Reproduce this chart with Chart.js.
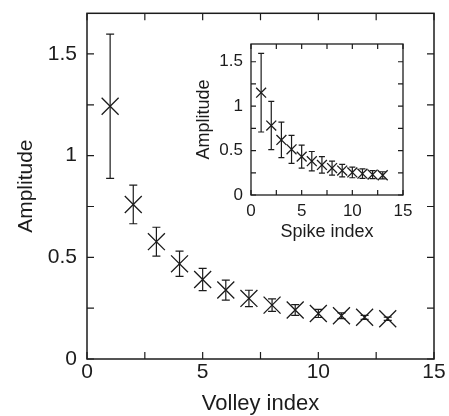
<!DOCTYPE html>
<html>
<head>
<meta charset="utf-8">
<script src="https://cdn.jsdelivr.net/npm/chart.js@4.4.1/dist/chart.umd.min.js"></script>
<style>
  html, body { margin: 0; padding: 0; background: #fff; }
  #wrap { position: relative; width: 449px; height: 416px; }
  #main { position: absolute; left: 0; top: 0; }
  #inset { position: absolute; left: 185px; top: 30px; }
</style>
</head>
<body>
<div id="wrap">
  <canvas id="main" width="449" height="416"></canvas>
  <canvas id="inset" width="230" height="215"></canvas>
</div>
<script>
// ---- data ----
const volleyIndex = [1, 2, 3, 4, 5, 6, 7, 8, 9, 10, 11, 12, 13];
const volleyAmplitude = [1.243, 0.760, 0.577, 0.468, 0.391, 0.339, 0.298, 0.265, 0.241, 0.224, 0.213, 0.205, 0.198];
const volleyError = [0.355, 0.095, 0.071, 0.062, 0.055, 0.049, 0.040, 0.031, 0.026, 0.020, 0.014, 0.010, 0.008];

const spikeIndex = [1, 2, 3, 4, 5, 6, 7, 8, 9, 10, 11, 12, 13];
const spikeAmplitude = [1.152, 0.782, 0.620, 0.514, 0.432, 0.381, 0.339, 0.303, 0.275, 0.254, 0.240, 0.230, 0.222];
const spikeError = [0.443, 0.271, 0.200, 0.158, 0.130, 0.109, 0.092, 0.079, 0.070, 0.060, 0.053, 0.045, 0.040];

const xTickLabels = [0, 5, 10, 15];
const yTickLabels = [0, 0.5, 1, 1.5];

const INK = '#1c1c1c';
const FONT = 'Liberation Sans, Arial, Helvetica, sans-serif';

function makePoints(xs, ys, es) {
  return xs.map((x, i) => ({ x: x, y: ys[i], err: es[i] }));
}

// error bars + inward ticks + frame
function decorPlugin(capHalf, tickLen, frameWidth) {
  return {
    id: 'decor',
    beforeDatasetsDraw(chart) {
      const ctx = chart.ctx;
      const xs = chart.scales.x, ys = chart.scales.y;
      ctx.save();
      ctx.strokeStyle = INK;
      ctx.lineWidth = 1.2;
      chart.data.datasets[0].data.forEach(p => {
        const px = xs.getPixelForValue(p.x);
        const pt = ys.getPixelForValue(p.y + p.err);
        const pb = ys.getPixelForValue(p.y - p.err);
        ctx.beginPath();
        ctx.moveTo(px, pt); ctx.lineTo(px, pb);
        ctx.moveTo(px - capHalf, pt); ctx.lineTo(px + capHalf, pt);
        ctx.moveTo(px - capHalf, pb); ctx.lineTo(px + capHalf, pb);
        ctx.stroke();
      });
      ctx.restore();
    },
    afterDraw(chart) {
      const ctx = chart.ctx;
      const a = chart.chartArea;
      const xs = chart.scales.x, ys = chart.scales.y;
      ctx.save();
      ctx.strokeStyle = INK;
      ctx.lineWidth = 1.2;
      ctx.beginPath();
      xs.ticks.forEach(t => {
        const px = xs.getPixelForValue(t.value);
        ctx.moveTo(px, a.bottom); ctx.lineTo(px, a.bottom - tickLen);
        ctx.moveTo(px, a.top); ctx.lineTo(px, a.top + tickLen);
      });
      ys.ticks.forEach(t => {
        const py = ys.getPixelForValue(t.value);
        ctx.moveTo(a.left, py); ctx.lineTo(a.left + tickLen, py);
        ctx.moveTo(a.right, py); ctx.lineTo(a.right - tickLen, py);
      });
      ctx.stroke();
      ctx.lineWidth = frameWidth;
      ctx.strokeRect(a.left, a.top, a.right - a.left, a.bottom - a.top);
      ctx.restore();
    }
  };
}

function zeroPad(s) {
  s.paddingTop = 0; s.paddingBottom = 0; s.paddingLeft = 0; s.paddingRight = 0;
}

function makeChart(canvasId, cfg) {
  return new Chart(document.getElementById(canvasId), {
    type: 'scatter',
    data: {
      datasets: [{
        data: makePoints(cfg.xs, cfg.ys, cfg.es),
        pointStyle: 'crossRot',
        pointRadius: cfg.markR,
        pointHoverRadius: cfg.markR,
        borderColor: INK,
        backgroundColor: INK,
        pointBorderWidth: 1.3,
        showLine: false
      }]
    },
    options: {
      responsive: false,
      animation: false,
      events: [],
      layout: { padding: cfg.padding },
      plugins: { legend: { display: false }, tooltip: { enabled: false } },
      scales: {
        x: {
          type: 'linear', min: 0, max: 15,
          grid: { display: false, drawTicks: false },
          border: { display: false },
          ticks: {
            stepSize: 2.5, includeBounds: false, padding: cfg.xTickPad,
            color: INK, font: { family: FONT, size: cfg.tickSize },
            maxRotation: 0, autoSkip: false,
            callback: v => xTickLabels.includes(v) ? String(v) : ''
          },
          title: {
            display: true, text: cfg.xTitle, color: INK,
            font: { family: FONT, size: cfg.titleSize, lineHeight: 1.1 },
            padding: { top: 0, bottom: cfg.xTitlePad }
          },
          afterFit: s => { s.height = cfg.xAxisH; zeroPad(s); }
        },
        y: {
          type: 'linear', min: 0, max: 1.7,
          grid: { display: false, drawTicks: false },
          border: { display: false },
          ticks: {
            stepSize: 0.25, includeBounds: false, padding: cfg.yTickPad,
            color: INK, font: { family: FONT, size: cfg.tickSize },
            autoSkip: false,
            callback: v => yTickLabels.some(t => Math.abs(t - v) < 1e-9) ? String(v) : ''
          },
          title: {
            display: true, text: cfg.yTitle, color: INK,
            font: { family: FONT, size: cfg.yTitleSize, lineHeight: 1.2 },
            padding: { top: cfg.yTitlePad, bottom: 0 }
          },
          afterFit: s => { s.width = cfg.yAxisW; zeroPad(s); }
        }
      }
    },
    plugins: [decorPlugin(cfg.capHalf, cfg.tickLen, cfg.frameWidth)]
  });
}

makeChart('main', {
  xs: volleyIndex, ys: volleyAmplitude, es: volleyError,
  markR: 12, capHalf: 4, tickLen: 7, frameWidth: 1.5,
  padding: { left: 0, top: 13, right: 15, bottom: 0 },
  tickSize: 21, titleSize: 22, yTitleSize: 21,
  xTickPad: 1, yTickPad: 10, xTitlePad: 0, yTitlePad: 14,
  xAxisH: 57, yAxisW: 87,
  xTitle: 'Volley index', yTitle: 'Amplitude'
});

makeChart('inset', {
  xs: spikeIndex, ys: spikeAmplitude, es: spikeError,
  markR: 7, capHalf: 3, tickLen: 5, frameWidth: 1.3,
  padding: { left: 0, top: 14, right: 12, bottom: 0 },
  tickSize: 17, titleSize: 18, yTitleSize: 18,
  xTickPad: 6, yTickPad: 8, xTitlePad: 3, yTitlePad: 8,
  xAxisH: 50, yAxisW: 66,
  xTitle: 'Spike index', yTitle: 'Amplitude'
});
</script>
</body>
</html>
